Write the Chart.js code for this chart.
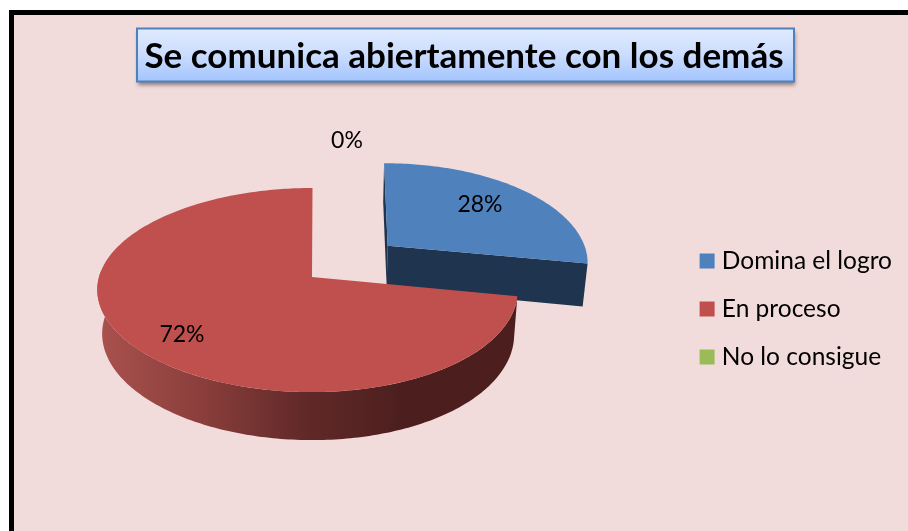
<!DOCTYPE html>
<html>
<head>
<meta charset="utf-8">
<style>html,body{margin:0;padding:0;background:#fff}#w{position:absolute;left:0;top:0;width:908px;height:531px}</style>
<script src="https://cdn.jsdelivr.net/npm/chart.js@4"></script>
</head>
<body>
<div id="w"><canvas id="c" width="908" height="531"></canvas></div>
<script>
const chartTitle = 'Se comunica abiertamente con los demás';
const categories = ['Domina el logro', 'En proceso', 'No lo consigue'];
const percentages = [28, 72, 0];
const sliceColors = ['#4f81bd', '#c0504d', '#9bbb59'];

// Styling of the 3D projection (not data)
const FONT = 'Lato, Carlito, Calibri, sans-serif';
const explode = [0.525, 0, 0];
const apexPull = 0.94;
const liftScale = 0.97;
const P = {cx: 312, cy: 277, rx: 208.5, ry: 100.4, k: 0.1275, skew: 4.5, shear: 0.5};
const labelSpots = [[480, 205], [182, 335], [347, 141]];
const wallBlue = '#1e344f';

function top3(u, v) {
  const d = 1 - P.k * v;
  return [P.cx + P.rx * u / d - P.skew * u * u - P.shear * v, P.cy + P.ry * v / d];
}
function low3(p) {
  return [340 + (p[0] - 340) * 0.98, p[1] + 43 + (p[1] - 263) * 0.039];
}
function arcPts(el, i, a0, a1) {
  const mid = (el.startAngle + el.endAngle) / 2;
  const ou = explode[i] * Math.cos(mid), ov = explode[i] * Math.sin(mid) * liftScale;
  const n = Math.max(2, Math.ceil(Math.abs(a1 - a0) * 60));
  const pts = [];
  for (let j = 0; j <= n; j++) {
    const a = a0 + (a1 - a0) * j / n;
    pts.push(top3(ou + Math.cos(a), ov + Math.sin(a)));
  }
  return {pts, apex: top3(ou * apexPull, ov)};
}
function poly(ctx, pts, fill) {
  ctx.beginPath();
  pts.forEach((p, i) => i ? ctx.lineTo(p[0], p[1]) : ctx.moveTo(p[0], p[1]));
  ctx.closePath();
  ctx.fillStyle = fill;
  ctx.fill();
}

const scene = {
  id: 'scene',
  beforeDraw(chart) {
    const ctx = chart.ctx, W = chart.width, H = chart.height;
    ctx.save();
    ctx.fillStyle = '#ffffff'; ctx.fillRect(0, 0, W, H);
    ctx.fillStyle = '#000000'; ctx.fillRect(9, 10, W, H);
    ctx.fillStyle = '#f2dcdb'; ctx.fillRect(14, 15, W, H);
    // title box
    const x = 137, y = 28.5, w = 657, h = 53;
    ctx.shadowColor = 'rgba(60,40,40,0.55)'; ctx.shadowBlur = 4; ctx.shadowOffsetX = 1; ctx.shadowOffsetY = 3;
    const g = ctx.createLinearGradient(0, y, 0, y + h);
    g.addColorStop(0, '#e0ebff'); g.addColorStop(0.5, '#cbdcfd'); g.addColorStop(1, '#a3c4fd');
    ctx.fillStyle = g; ctx.fillRect(x, y, w, h);
    ctx.shadowColor = 'transparent';
    ctx.strokeStyle = '#4f81bd'; ctx.lineWidth = 2; ctx.strokeRect(x, y, w, h);
    ctx.restore();
  },
  beforeDatasetDraw(chart, args) {
    const ctx = chart.ctx, els = args.meta.data;
    ctx.save();
    // blue slice: cut wall facing the viewer, then top face
    const b = arcPts(els[0], 0, els[0].startAngle, els[0].endAngle);
    const bEnd = b.pts[b.pts.length - 1], bStart = b.pts[0];
    poly(ctx, [bStart, b.apex, low3(b.apex), low3(bStart)], wallBlue);
    poly(ctx, [b.apex, bEnd, low3(bEnd), low3(b.apex)], wallBlue);
    poly(ctx, [b.apex, ...b.pts], els[0].options.backgroundColor);
    // red slice: outer wall with gradient, then top face
    const r = arcPts(els[1], 1, els[1].startAngle, els[1].endAngle);
    const wall = arcPts(els[1], 1, els[1].startAngle, Math.PI * 1.02);
    const g = ctx.createLinearGradient(100, 0, 400, 0);
    g.addColorStop(0, '#a9514e'); g.addColorStop(0.33, '#8b3f3c');
    g.addColorStop(0.67, '#622a29'); g.addColorStop(1, '#4c1f1e');
    poly(ctx, [...wall.pts, ...wall.pts.map(low3).reverse()], g);
    poly(ctx, [r.apex, ...r.pts], els[1].options.backgroundColor);
    // value labels
    ctx.fillStyle = '#000'; ctx.font = '23px ' + FONT;
    ctx.textAlign = 'center'; ctx.textBaseline = 'middle';
    percentages.forEach((v, i) => ctx.fillText(v + '%', labelSpots[i][0], labelSpots[i][1]));
    ctx.restore();
    return false;
  }
};

new Chart(document.getElementById('c'), {
  type: 'pie',
  data: {labels: categories, datasets: [{data: percentages, backgroundColor: sliceColors, borderWidth: 0}]},
  plugins: [scene],
  options: {
    responsive: false,
    animation: false,
    events: [],
    layout: {padding: {left: 26, top: 36, bottom: 0, right: 6}},
    plugins: {
      tooltip: {enabled: false},
      title: {display: true, text: chartTitle, color: '#000', font: {family: FONT, size: 35, weight: 'bold'}, padding: {top: 0, bottom: 9}},
      legend: {
        position: 'right',
        fullSize: false,
        labels: {
          boxWidth: 5, boxHeight: 5, padding: 23.5, color: '#000',
          font: {family: FONT, size: 24.5},
          generateLabels(chart) {
            return Chart.overrides.pie.plugins.legend.labels.generateLabels(chart).map(it => ({...it, strokeStyle: it.fillStyle, lineWidth: 10}));
          }
        }
      }
    }
  }
});
</script>
</body>
</html>
